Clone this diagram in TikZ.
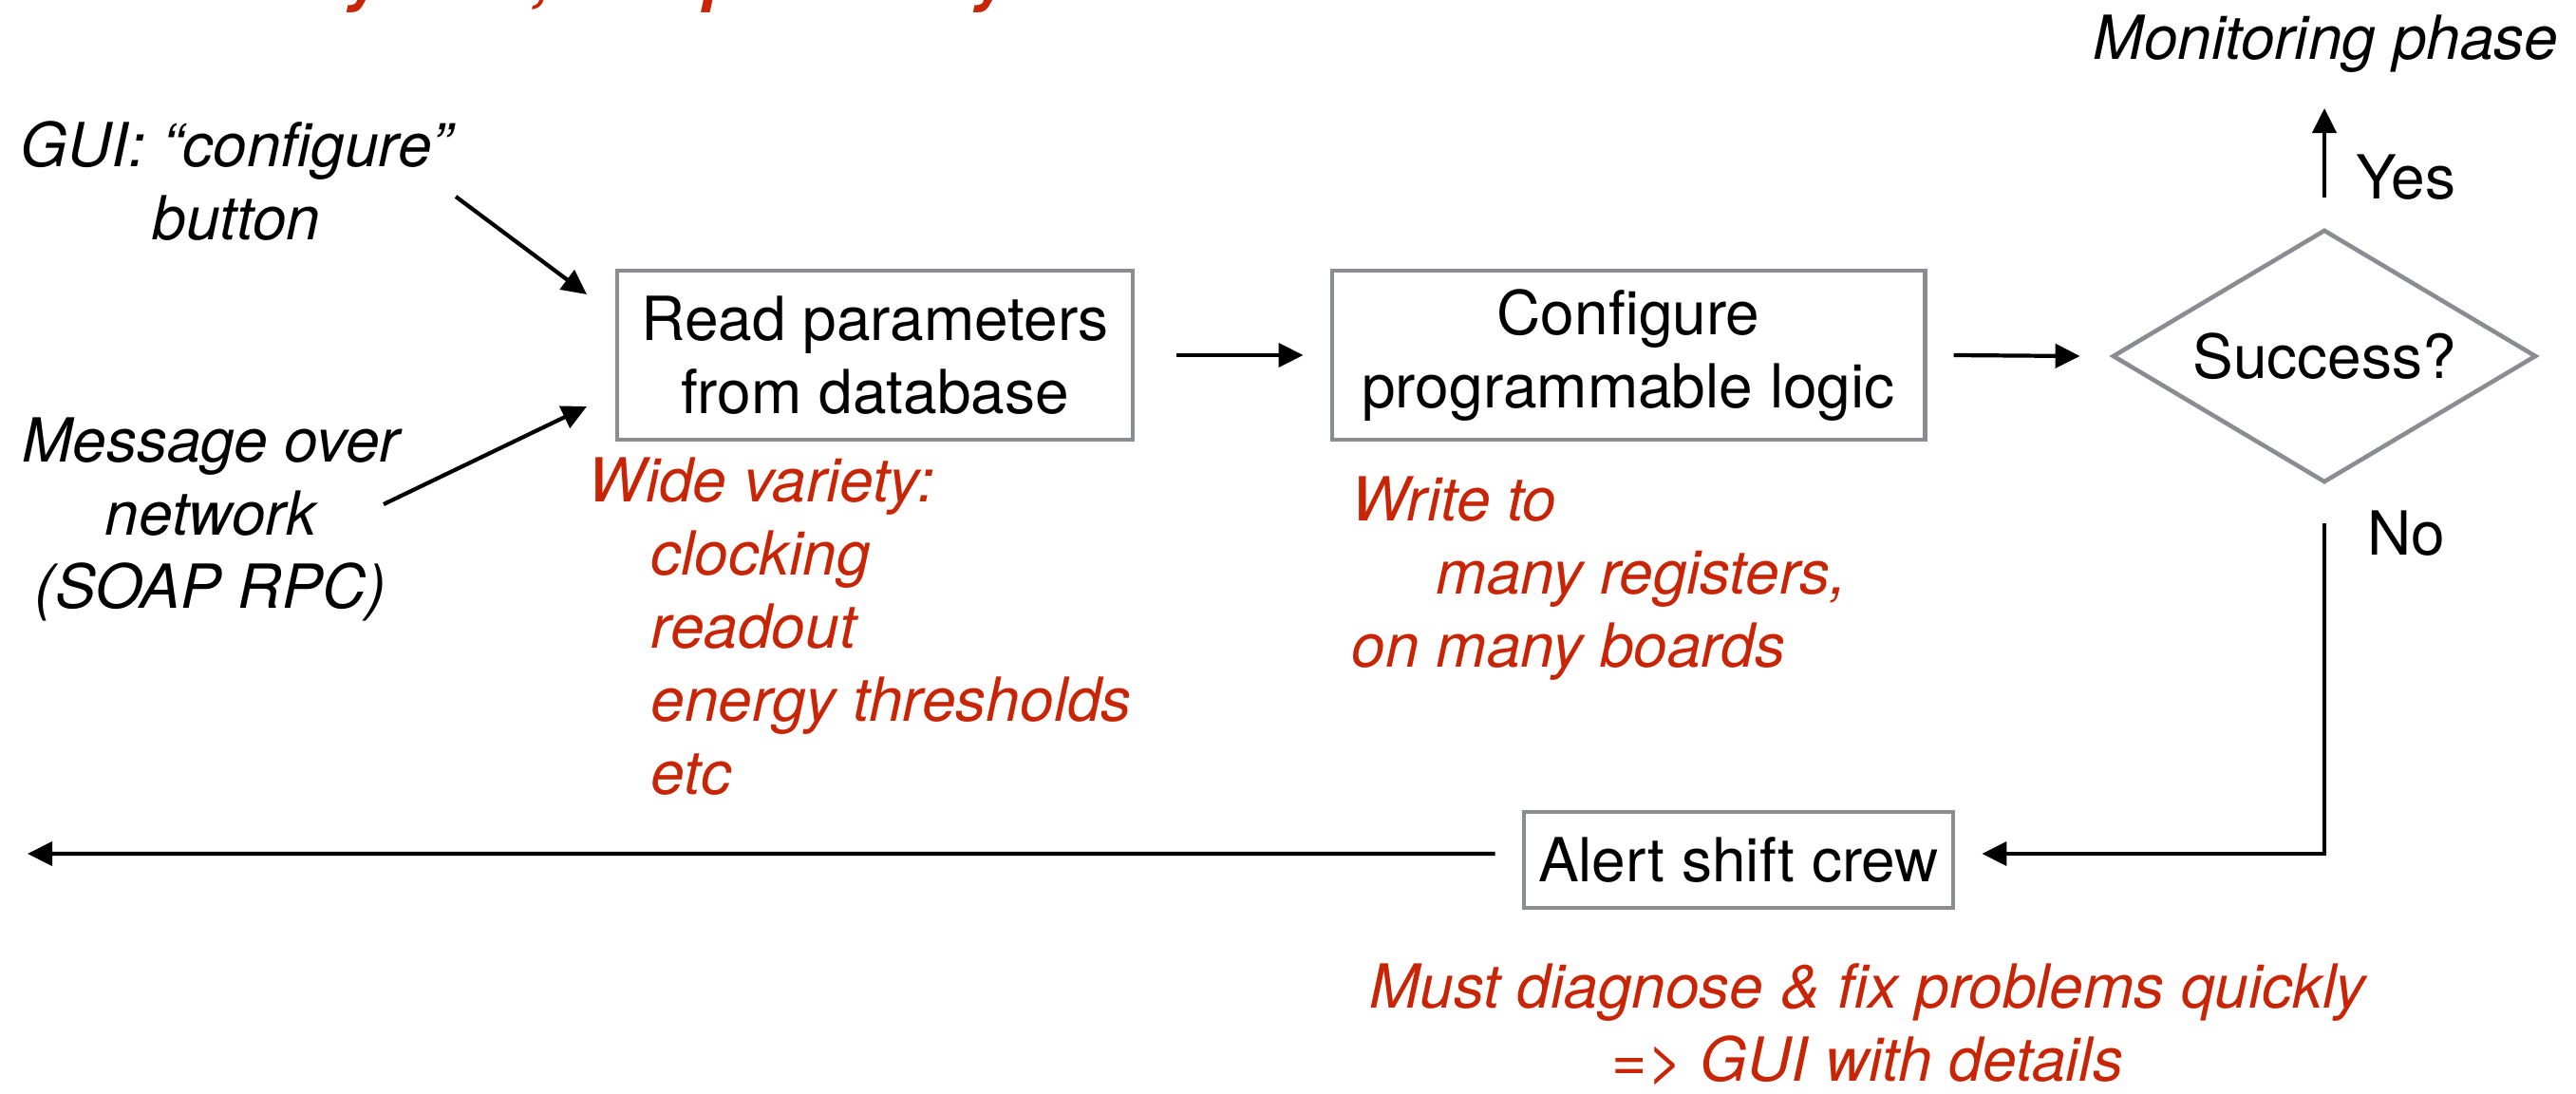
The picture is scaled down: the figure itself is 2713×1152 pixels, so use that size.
\documentclass[tikz,border=0pt]{standalone}
\usepackage{fontspec}
\setmainfont{TeX Gyre Heros}
\usetikzlibrary{arrows.meta,shapes.geometric}
\definecolor{notered}{RGB}{200,37,6}
\definecolor{boxgrey}{RGB}{137,140,145}
\begin{document}
\begin{tikzpicture}[x=0.01cm, y=-0.01cm,
  txt/.style={font=\fontsize{18.2pt}{21.9pt}\selectfont, inner sep=0pt},
  itx/.style={inner sep=0pt, font=\fontsize{18.2pt}{21.9pt}\selectfont\itshape},
  note/.style={inner sep=0pt, text=notered, font=\fontsize{18.2pt}{21.9pt}\selectfont\itshape},
  ttlstyle/.style={inner sep=0pt, text=notered, font=\fontsize{19.5pt}{22pt}\selectfont\bfseries\itshape},
  box/.style={draw=boxgrey, line width=1.3pt, inner sep=0pt, txt},
  dia/.style={diamond, draw=boxgrey, line width=1.3pt, inner sep=0pt, shape aspect=1.67,
              minimum width=4.46cm, minimum height=2.66cm, txt},
  arr/.style={line width=1.2pt, -{Triangle[length=2.6mm,width=2.5mm]}}
]
\useasboundingbox (0,0) rectangle (2713,1152);
\begin{scope}
  \clip (0,0) rectangle (2713,1152);
  \node[ttlstyle, anchor=base west] (ttl) at (205,-1) {subsystem, independently};
\end{scope}

% main flow
\node[box, minimum width=5.43cm, minimum height=1.78cm, align=center] (b1) at (921.5,374) {Read parameters\\from database};
\node[box, minimum width=6.24cm, minimum height=1.78cm, align=center] (b2) at (1715,374) {Configure\\programmable logic};
\node[dia] (d) at (2448,375) {Success?};
\node[box, minimum width=4.52cm, minimum height=1.01cm] (al) at (1831,905.5) {Alert shift crew};

% labels
\node[itx, anchor=base west] (mon) at (2204,63) {Monitoring phase};
\node[txt, anchor=base west] (yes) at (2481,210) {Yes};
\node[txt, anchor=base west] (no) at (2493,584) {No};
\node[itx, anchor=north, align=center] (gui) at (249,127) {GUI: “configure”\\button};
\node[itx, anchor=north, align=center] (msg) at (222,439) {Message over\\network\\(SOAP RPC)};

% red notes
\node[note, anchor=north west, align=left] (wide) at (619,481)
  {Wide variety:\\\hspace*{0.66cm}clocking\\\hspace*{0.66cm}readout\\\hspace*{0.66cm}energy thresholds\\\hspace*{0.66cm}etc};
\node[note, anchor=north west, align=left] (wr) at (1423,501)
  {Write to\\\hspace*{0.89cm}many registers,\\on many boards};
\node[note, anchor=north, align=center] (must) at (1967,1014)
  {Must diagnose \& fix problems quickly\\=> GUI with details};

% free ends
\coordinate (gs) at (480,207);
\coordinate (ge) at (618,310);
\coordinate (ms) at (404,531);
\coordinate (me) at (618,428);
\coordinate (yt) at (2448,114);
\coordinate (lend) at (29,899);

% connectors
\draw[arr] (gs) -- (ge);
\draw[arr] (ms) -- (me);
\draw[arr] ([xshift=0.44cm]b1.east) -- ([xshift=-0.28cm]b2.west);
\draw[arr] ([xshift=0.28cm]b2.east) -- ([xshift=-0.32cm]d.west);
\draw[arr] ([yshift=0.32cm]d.north) -- (yt);
\draw[arr] ([yshift=-0.41cm]d.south) |- ([xshift=0.28cm,yshift=0.065cm]al.east);
\draw[arr] ([xshift=-0.28cm,yshift=0.065cm]al.west) -- (lend);
\end{tikzpicture}
\end{document}
